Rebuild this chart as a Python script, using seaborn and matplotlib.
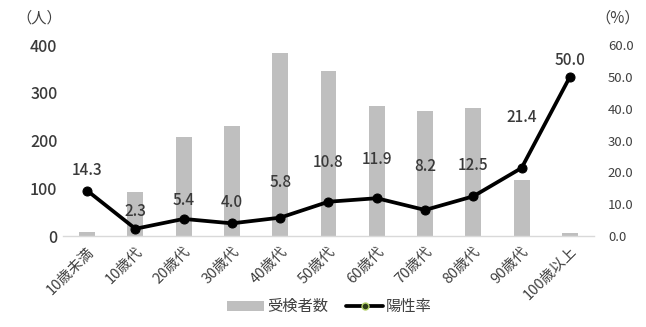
import numpy as np
import pandas as pd
import matplotlib
matplotlib.use("Agg")
import matplotlib.pyplot as plt
import seaborn as sns
from matplotlib.patches import Patch
from matplotlib.lines import Line2D

categories = ["10歳未満", "10歳代", "20歳代", "30歳代", "40歳代", "50歳代",
              "60歳代", "70歳代", "80歳代", "90歳代", "100歳以上"]
tested = [9, 92, 207, 230, 383, 345, 272, 262, 268, 117, 6]
positive_rate = [14.3, 2.3, 5.4, 4.0, 5.8, 10.8, 11.9, 8.2, 12.5, 21.4, 50.0]
left_ticks = [0, 100, 200, 300, 400]
right_ticks = [0, 10, 20, 30, 40, 50, 60]
bar_label = "受検者数"
line_label = "陽性率"

# label vertical offsets (points) – style only
label_offsets = [8, 6, 7, 9, 19, 22, 22, 25, 16, 30, 6]

sns.set_theme(style="white")
plt.rcParams['font.family'] = ['Noto Sans CJK JP', 'DejaVu Sans']

df = pd.DataFrame({"cat": categories, "tested": tested, "rate": positive_rate,
                   "pos": np.arange(len(categories))})

fig = plt.figure(figsize=(6.46, 3.27), dpi=100)
ax = fig.add_axes([0.0975, 0.278, 0.822, 0.584])

sns.barplot(data=df, x="cat", y="tested", color="#bfbfbf", saturation=1,
            width=0.33, ax=ax, edgecolor="none")
ax.set_ylim(0, 400)
ax.set_xlim(-0.5, len(categories) - 0.5)
ax.set_yticks(left_ticks)
ax.set_yticklabels([str(t) for t in left_ticks], fontsize=11.5, color="#3a3a3a",
                   fontweight="medium")
ax.set_xlabel("")
ax.set_ylabel("")
ax.set_xticks(range(len(categories)))
ax.set_xticklabels(categories, rotation=45, ha="right", rotation_mode="anchor",
                   fontsize=10.5, color="#404040")
ax.tick_params(axis="both", length=0, pad=4)
ax.tick_params(axis="x", pad=6)
for s in ["top", "right", "left"]:
    ax.spines[s].set_visible(False)
ax.spines["bottom"].set_color("#d9d9d9")
ax.spines["bottom"].set_linewidth(1.0)

ax2 = ax.twinx()
sns.lineplot(data=df, x="pos", y="rate", ax=ax2, color="black", linewidth=2.7,
             marker="o", markersize=6.5, markerfacecolor="black",
             markeredgecolor="black", legend=False)
ax2.set_ylim(0, 60)
ax2.set_yticks(right_ticks)
ax2.set_yticklabels([f"{t:.1f}" for t in right_ticks], fontsize=9.5, color="#404040")
ax2.tick_params(axis="y", length=0, pad=10)
ax2.set_ylabel("")
ax2.set_xlabel("")
for s in ["top", "right", "left", "bottom"]:
    ax2.spines[s].set_visible(False)

for i, (v, off) in enumerate(zip(positive_rate, label_offsets)):
    ax2.annotate(f"{v:.1f}", (i, v), xytext=(0, off), textcoords="offset points",
                 ha="center", va="bottom", fontsize=11, color="#3a3a3a",
                 fontweight="medium")

fig.text(0.025, 0.945, "（人）", fontsize=11, color="#404040", ha="left", va="center")
fig.text(0.99, 0.945, "（%）", fontsize=11, color="#404040", ha="right", va="center")

handles = [Patch(facecolor="#bfbfbf", edgecolor="none", label=bar_label),
           Line2D([0], [0], color="black", linewidth=2.7, marker="o", markersize=5,
                  markerfacecolor="#2f3d1a", markeredgecolor="#b5d36b", label=line_label)]
fig.legend(handles=handles, loc="center", bbox_to_anchor=(0.51, 0.062), ncol=2,
           frameon=False, fontsize=11, handlelength=2.4, handletextpad=0.2,
           columnspacing=1.2, labelcolor="#404040")

fig.savefig("out.png", dpi=100)
